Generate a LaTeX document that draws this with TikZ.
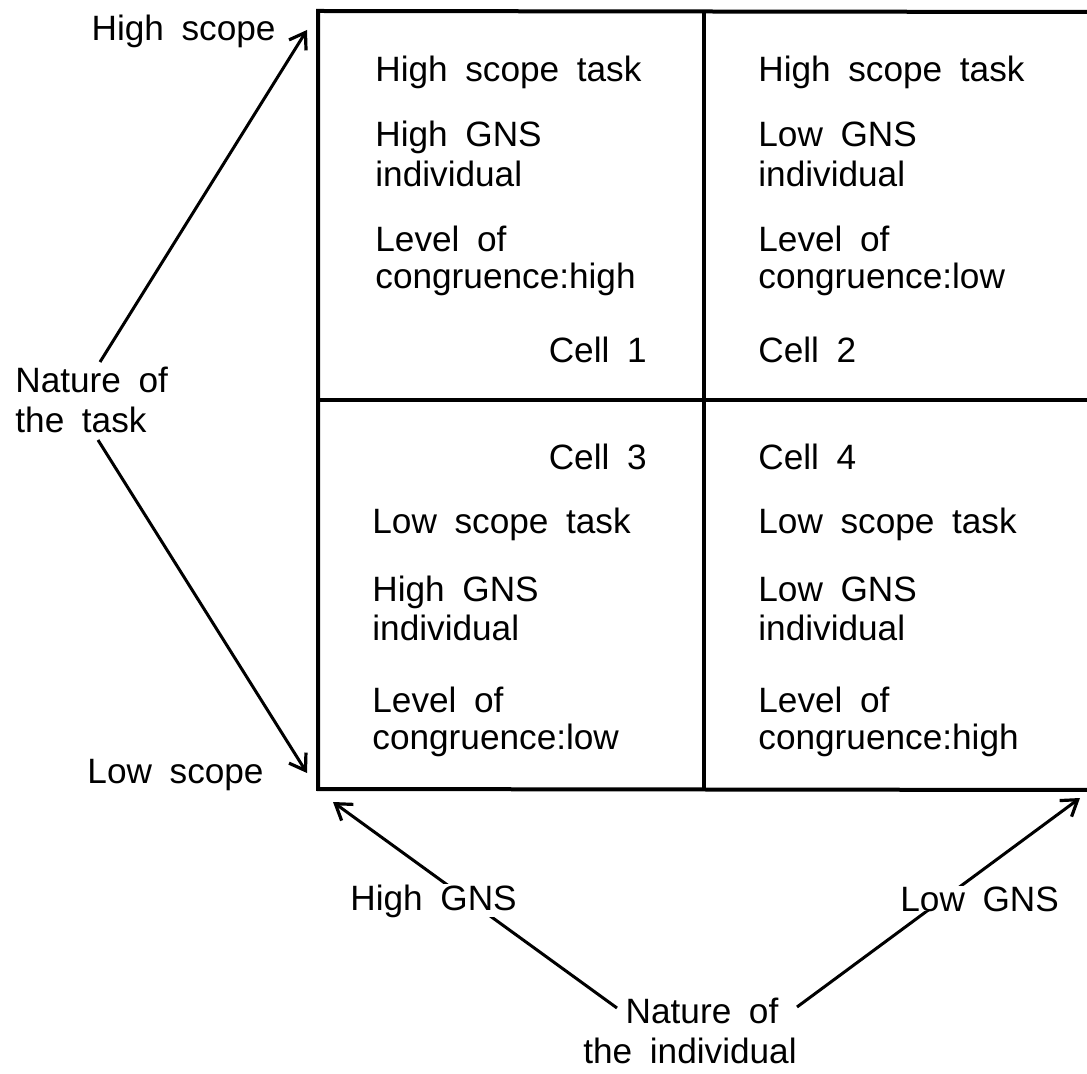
\documentclass[tikz,border=0pt]{standalone}
\usepackage{fontspec}
\setmainfont[WordSpace=1.8]{Liberation Sans}
\usetikzlibrary{arrows.meta}
\begin{document}
\begin{tikzpicture}[x=0.5pt,y=-0.5pt,
  txt/.style={inner sep=0pt, font=\fontsize{17.6}{20}\selectfont},
  cellw/.style={txt, anchor=base west},
  celle/.style={txt, anchor=base east},
  masked/.style={txt, anchor=base west, fill=white},
  frame/.style={line width=2pt},
  divider/.style={line width=1.6pt},
  pointer/.style={line width=1.5pt, -{Straight Barb[length=7.5pt,width=10pt,line width=1.6pt]}},
]
\useasboundingbox (0,0) rectangle (1087,1074);

% corners of the 2x2 matrix (right edge runs off the page)
\coordinate (tl) at (318,11);
\coordinate (tr) at (1095,12);
\coordinate (bl) at (318,789);
\coordinate (br) at (1095,790);
\coordinate (mt) at (704,11);
\coordinate (mb) at (704,789);
\coordinate (ml) at (318,400);
\coordinate (mr) at (1095,400);

\draw[frame] (tr) -- (tl) -- (bl) -- (br);
\draw[divider] (mt) -- (mb);
\draw[divider] (ml) -- (mr);

% arrow end points
\coordinate (taskA) at (100,362);
\coordinate (taskB) at (98,440);
\coordinate (hiscope) at (307,30);
\coordinate (loscope) at (307,773);
\coordinate (indA) at (617,1008);
\coordinate (indB) at (797,1007);
\coordinate (higns) at (333,802);
\coordinate (logns) at (1080,798);

% nature of the task
\draw[pointer] (taskA) -- (hiscope);
\draw[pointer] (taskB) -- (loscope);
% nature of the individual
\draw[pointer] (indA) -- (higns);
\draw[pointer] (indB) -- (logns);

% axis labels
\node[celle] (hs) at (276,41) {High scope};
\node[cellw] (nt1) at (15,393) {Nature of};
\node[cellw] (nt2) at (15,433) {the task};
\node[celle] (ls) at (264,783) {Low scope};
\node[masked] (hg) at (350,910) {High GNS};
\node[masked] (lg) at (900,911) {Low GNS};
\node[txt, anchor=base] (ni1) at (702,1023) {Nature of};
\node[txt, anchor=base] (ni2) at (690,1063) {the individual};

% cell 1
\node[cellw] (c1a) at (375,82) {High scope task};
\node[cellw] (c1b) at (375,147) {High GNS};
\node[cellw] (c1c) at (375,187) {individual};
\node[cellw] (c1d) at (375,252) {Level of};
\node[cellw] (c1e) at (375,289) {congruence:high};
\node[celle] (c1f) at (647,363) {Cell 1};

% cell 2
\node[cellw] (c2a) at (758,82) {High scope task};
\node[cellw] (c2b) at (758,147) {Low GNS};
\node[cellw] (c2c) at (758,187) {individual};
\node[cellw] (c2d) at (758,252) {Level of};
\node[cellw] (c2e) at (758,289) {congruence:low};
\node[cellw] (c2f) at (758,363) {Cell 2};

% cell 3
\node[celle] (c3f) at (647,470) {Cell 3};
\node[cellw] (c3a) at (372,534) {Low scope task};
\node[cellw] (c3b) at (372,602) {High GNS};
\node[cellw] (c3c) at (372,640) {individual};
\node[cellw] (c3d) at (372,712) {Level of};
\node[cellw] (c3e) at (372,749) {congruence:low};

% cell 4
\node[cellw] (c4f) at (758,470) {Cell 4};
\node[cellw] (c4a) at (758,534) {Low scope task};
\node[cellw] (c4b) at (758,602) {Low GNS};
\node[cellw] (c4c) at (758,640) {individual};
\node[cellw] (c4d) at (758,712) {Level of};
\node[cellw] (c4e) at (758,749) {congruence:high};
\end{tikzpicture}
\end{document}
